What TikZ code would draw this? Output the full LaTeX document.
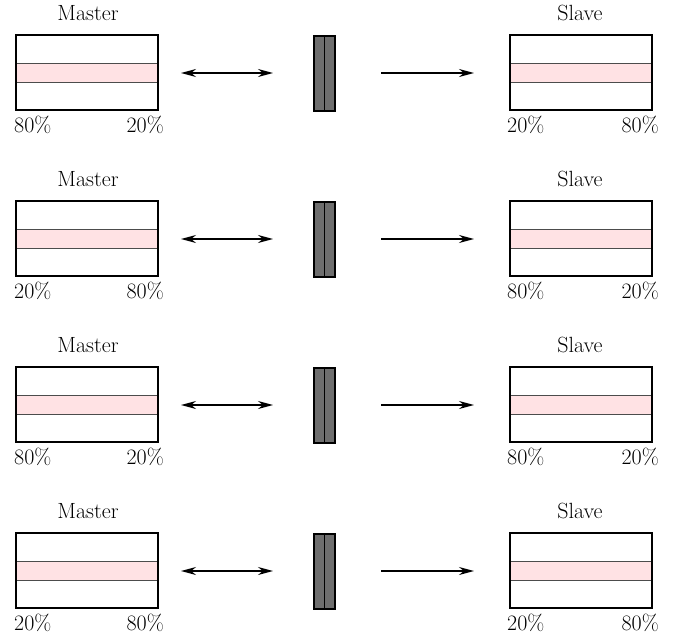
\documentclass[tikz,border=0pt]{standalone}
\usetikzlibrary{arrows.meta}
\definecolor{bandpink}{RGB}{255,226,228}
\definecolor{plategray}{RGB}{110,110,110}
\tikzset{
  tank/.style={draw=black, line width=2.4pt, minimum width=142pt, minimum height=75pt, inner sep=0pt},
  band/.style={draw=black!70, fill=bandpink, line width=0.9pt, minimum width=142pt, minimum height=19pt, inner sep=0pt},
  plate/.style={draw=black, fill=plategray, line width=1.8pt, minimum width=21pt, minimum height=75pt, inner sep=0pt},
  lbl/.style={font=\fontsize{22}{26}\selectfont, inner sep=0pt},
  flow/.style={line width=1.3pt, -{Stealth[length=15pt, width=8pt]}},
  bothflow/.style={line width=1.3pt, {Stealth[length=15pt, width=8pt]}-{Stealth[length=15pt, width=8pt]}}
}
\begin{document}
\begin{tikzpicture}[x=1pt, y=-1pt]
\useasboundingbox (0,0) rectangle (674,639);
\foreach \r/\ml/\mr/\sl/\sr in {0/80/20/20/80, 1/20/80/80/20, 2/80/20/80/20, 3/20/80/20/80} {
  \begin{scope}[yshift={-166*\r pt}]
    % master tank
    \node[band] (mb\r) at (87,72.5) {};
    \node[tank] (m\r) at (87,72.5) {};
    \node[lbl] (mt\r) at (88,13) {Master};
    \node[lbl, anchor=west] (ml\r) at (14,125) {\ml\%};
    \node[lbl, anchor=east] (mr\r) at (164,125) {\mr\%};
    % slave tank
    \node[band] (sb\r) at (581,72.5) {};
    \node[tank] (s\r) at (581,72.5) {};
    \node[lbl] (st\r) at (580,13) {Slave};
    \node[lbl, anchor=west] (sl\r) at (507,125) {\sl\%};
    \node[lbl, anchor=east] (sr\r) at (659,125) {\sr\%};
    % plate in the middle
    \node[plate] (p\r) at (324.5,73.5) {};
    \draw[line width=1.2pt] (p\r.north) -- (p\r.south);
    % connectors
    \coordinate (a\r) at (181,73);
    \coordinate (b\r) at (273,73);
    \coordinate (c\r) at (381,73);
    \coordinate (d\r) at (474,73);
    \draw[bothflow] (a\r) -- (b\r);
    \draw[flow] (c\r) -- (d\r);
  \end{scope}
}
\end{tikzpicture}
\end{document}
